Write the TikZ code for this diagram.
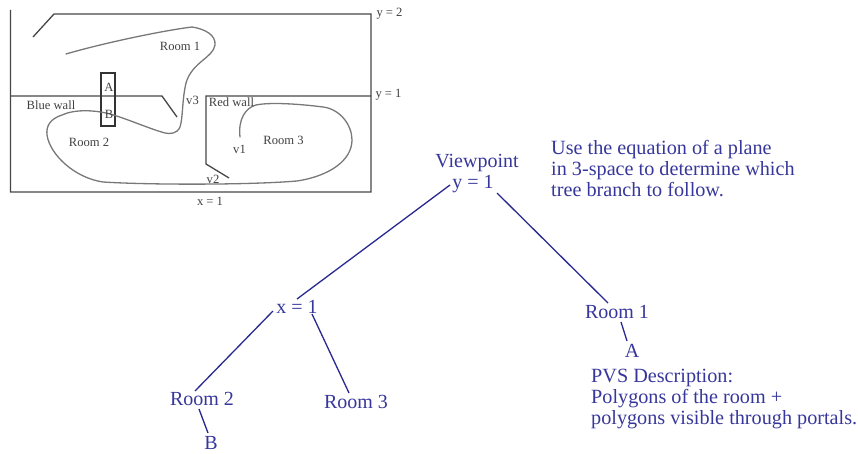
\documentclass[tikz,border=0pt]{standalone}
\usepackage{fontspec}
\setmainfont{Liberation Serif}
\definecolor{bluetxt}{RGB}{55,55,155}
\definecolor{edgec}{RGB}{40,40,145}
\definecolor{wallc}{RGB}{70,70,70}
\definecolor{curvec}{RGB}{120,120,120}
\tikzset{
  wall/.style={draw=wallc,line width=1.3pt},
  roomcurve/.style={draw=curvec,line width=1.3pt,line cap=round,line join=round},
  planlabel/.style={text=black!75,font=\fontsize{12.6}{14}\selectfont,inner sep=0pt},
  treelabel/.style={text=bluetxt,font=\fontsize{20}{22}\selectfont,inner sep=0pt},
  noteblock/.style={text=bluetxt,font=\fontsize{20.2}{21}\selectfont,inner sep=0pt,align=left,anchor=north west},
  edgeline/.style={draw=edgec,line width=1.3pt},
}
\begin{document}
\begin{tikzpicture}[x=1pt,y=-1pt]
\useasboundingbox (0,0) rectangle (858,454);
% plan
\draw[wall] (10.5,10) -- (10.5,192) -- (371,192) -- (371,14) -- (54,14) -- (33,37);
\draw[wall] (10.5,96) -- (162,96) -- (177,117);
\draw[wall] (229,178) -- (206,164) -- (206,96) -- (371,96);
\draw[wall,draw=black!80,line width=1.1pt] (101,73) rectangle (115,126);
\draw[roomcurve] (66,54) .. controls (100,44) and (160,31) .. (192,27)
  .. controls (205,29) and (216,35) .. (215,45)
  .. controls (213,58) and (192,62) .. (186,83)
  .. controls (182,100) and (183,118) .. (180,127)
  .. controls (177,134) and (170,134) .. (165,133)
  .. controls (150,129) and (125,118) .. (110,114)
  .. controls (95,110) and (75,109) .. (62,115)
  .. controls (50,119) and (46,126) .. (47,135)
  .. controls (50,155) and (75,178) .. (103,182)
  .. controls (150,185) and (250,185) .. (297,181)
  .. controls (330,176) and (352,160) .. (352,140)
  .. controls (352,125) and (340,109) .. (323,107)
  .. controls (300,104) and (270,102) .. (256,105)
  .. controls (245,108) and (238,120) .. (240,137);
\node[planlabel] (room1) at (180,46.5) {Room 1};
\node[planlabel] (room2) at (89,142) {Room 2};
\node[planlabel] (room3) at (283.5,140.5) {Room 3};
\node[planlabel] (bluew) at (51,105) {Blue wall};
\node[planlabel] (redw) at (231.5,102) {Red wall};
\node[planlabel] (lA) at (109,87) {A};
\node[planlabel] (lB) at (109,114.5) {B};
\node[planlabel] (v1) at (239.5,149) {v1};
\node[planlabel] (v2) at (213,179) {v2};
\node[planlabel] (v3) at (192.5,100) {v3};
\node[planlabel] (x1a) at (210,201) {x = 1};
\node[planlabel] (y2) at (389.5,14) {y = 2};
\node[planlabel] (y1) at (388.5,94.5) {y = 1};
% tree
\node[treelabel] (vp) at (477,163) {Viewpoint};
\node[treelabel] (y1t) at (473,184) {y = 1};
\node[treelabel] (x1t) at (297,307) {x = 1};
\node[treelabel] (r1) at (617,312) {Room 1};
\node[treelabel] (r2) at (202,399) {Room 2};
\node[treelabel] (r3) at (356,402) {Room 3};
\node[treelabel] (A) at (632,351) {A};
\node[treelabel] (B) at (211,443) {B};
\coordinate (e1a) at (450,185);
\coordinate (e1b) at (297,299);
\coordinate (e2a) at (497,193);
\coordinate (e2b) at (608,303);
\coordinate (e3a) at (273,311);
\coordinate (e3b) at (195,391);
\coordinate (e4a) at (312,314);
\coordinate (e4b) at (349,393);
\coordinate (e5a) at (621,322);
\coordinate (e5b) at (627,341);
\coordinate (e6a) at (199,409);
\coordinate (e6b) at (208,433);
\draw[edgeline] (e1a) -- (e1b);
\draw[edgeline] (e2a) -- (e2b);
\draw[edgeline] (e3a) -- (e3b);
\draw[edgeline] (e4a) -- (e4b);
\draw[edgeline] (e5a) -- (e5b);
\draw[edgeline] (e6a) -- (e6b);
\node[noteblock] (note1) at (551,140) {Use the equation of a plane\\in 3-space to determine which\\tree branch to follow.};
\node[noteblock] (note2) at (591,368.5) {PVS Description:\\Polygons of the room +\\polygons visible through portals.};
\end{tikzpicture}
\end{document}
